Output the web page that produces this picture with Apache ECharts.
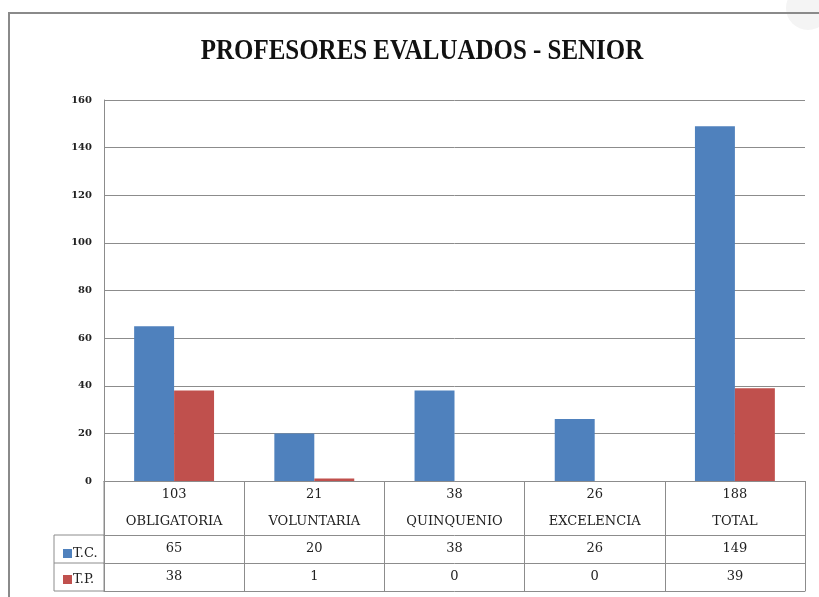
<!DOCTYPE html>
<html><head><meta charset="utf-8">
<script src="https://cdn.jsdelivr.net/npm/echarts@6/dist/echarts.min.js"></script>
<style>html,body{margin:0;padding:0;background:#fff}#c{width:819px;height:597px}</style>
</head><body><div id="c"></div>
<script>
const categories = ['OBLIGATORIA', 'VOLUNTARIA', 'QUINQUENIO', 'EXCELENCIA', 'TOTAL'];
const totals = [103, 21, 38, 26, 188];
const tcValues = [65, 20, 38, 26, 149];
const tpValues = [38, 1, 0, 0, 39];
const yTicks = [0, 20, 40, 60, 80, 100, 120, 140, 160];
const titleText = 'PROFESORES EVALUADOS - SENIOR';

const FONT = '"Liberation Serif", serif';
const TFONT = '"DejaVu Serif", serif';
const GRID = {left: 104, right: 14, top: 100, bottom: 116};
const LINE = '#8c8c8c';
const chart = echarts.init(document.getElementById('c'));

function tableAxis(offset, labels, tickLen, showLabel) {
  return {
    type: 'category', data: categories, position: 'bottom', offset: offset,
    axisLine: {show: true, lineStyle: {color: LINE, width: 1}},
    axisTick: {show: tickLen > 0, interval: 0, length: tickLen, lineStyle: {color: LINE}},
    axisLabel: {show: showLabel, interval: 0, margin: 0, fontFamily: TFONT, fontSize: 13,
      color: '#222', lineHeight: 28, verticalAlign: 'top',
      formatter: (v, i) => labels ? String(labels[i]) : v}
  };
}

const option = {
  animation: false,
  legend: {orient: 'vertical', left: 58, top: 542, itemWidth: 9, itemHeight: 9, itemGap: 13,
    icon: 'rect', textStyle: {fontFamily: TFONT, fontSize: 13, color: '#222', padding: [0, 0, 0, -4]},
    data: ['T.C.', 'T.P.']},
  grid: GRID,
  xAxis: [
    {type: 'category', data: categories, position: 'bottom',
      axisLine: {show: true, lineStyle: {color: LINE}},
      axisTick: {show: true, interval: 0, length: 54, lineStyle: {color: LINE}},
      axisLabel: {interval: 0, margin: 0, fontFamily: TFONT, fontSize: 13, color: '#222',
        lineHeight: 27, verticalAlign: 'top',
        formatter: (v, i) => totals[i] + '\n' + v}},
    tableAxis(54, tcValues, 28, true),
    tableAxis(82, tpValues, 28, true),
    tableAxis(110, null, 0, false)
  ],
  yAxis: {type: 'value', min: yTicks[0], max: yTicks[yTicks.length - 1], interval: 20,
    axisLine: {show: true, lineStyle: {color: LINE}}, axisTick: {show: false},
    axisLabel: {fontFamily: TFONT, fontSize: 10, fontWeight: 'bold', color: '#222', margin: 12},
    splitLine: {lineStyle: {color: LINE}}},
  series: [
    {name: 'T.C.', type: 'bar', data: tcValues, barGap: 0, barCategoryGap: '43%',
      itemStyle: {color: '#4F81BD'}},
    {name: 'T.P.', type: 'bar', data: tpValues, barGap: 0, barCategoryGap: '43%',
      itemStyle: {color: '#C0504D'}}
  ]
};
chart.setOption(option);

// table left column + frame + condensed title
const x0 = GRID.left, h = 597, yBase = h - GRID.bottom;
const rows = [yBase + 54, yBase + 82, yBase + 110];
const lineStyle = {stroke: LINE, lineWidth: 1};
const g = [
  {type: 'line', shape: {x1: 54, y1: rows[0], x2: 54, y2: rows[2]}, style: lineStyle},
  {type: 'line', shape: {x1: x0, y1: yBase, x2: x0, y2: rows[2]}, style: lineStyle}
];
rows.forEach(y => g.push({type: 'line', shape: {x1: 54, y1: y, x2: x0, y2: y}, style: lineStyle}));
g.push({type: 'circle', shape: {cx: 808, cy: 8, r: 22}, style: {fill: '#f4f4f4'}, z: -1});
g.push({type: 'polyline', shape: {points: [[9, 597], [9, 13], [819, 13]]},
  style: {stroke: '#8a8a8a', lineWidth: 2, fill: null}});
g.push({type: 'text', x: 422, y: 52, scaleX: 0.86,
  style: {text: titleText, font: 'bold 29px "Liberation Serif", serif', fill: '#111',
    textAlign: 'center', textVerticalAlign: 'middle'}});
chart.setOption({graphic: g});
</script></body></html>
